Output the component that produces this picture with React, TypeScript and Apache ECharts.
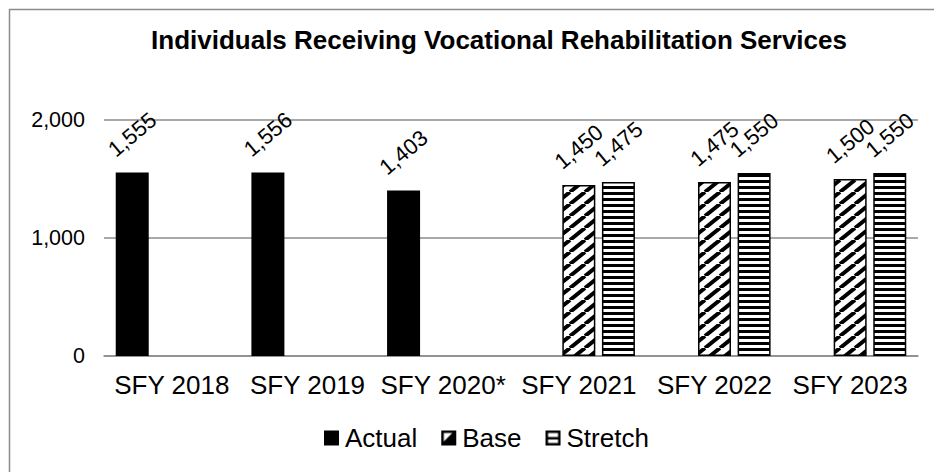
import React, { useEffect, useRef } from "react";
import * as echarts from "echarts";

const categories = ["SFY 2018", "SFY 2019", "SFY 2020*", "SFY 2021", "SFY 2022", "SFY 2023"];
const actualValues: (number | null)[] = [1555, 1556, 1403, null, null, null];
const baseValues: (number | null)[] = [null, null, null, 1450, 1475, 1500];
const stretchValues: (number | null)[] = [null, null, null, 1475, 1550, 1550];
const seriesNames = ["Actual", "Base", "Stretch"];
const titleText = "Individuals Receiving Vocational Rehabilitation Services";

const FONT = 'Arial, "Liberation Sans", sans-serif';

function makeDiagonal() {
  const W = 15, H = 12;
  const c = document.createElement("canvas");
  c.width = W; c.height = H;
  const ctx = c.getContext("2d")!;
  ctx.fillStyle = "#fff";
  ctx.fillRect(0, 0, W, H);
  ctx.strokeStyle = "#000";
  ctx.lineWidth = 4;
  for (const x0 of [-W, 0, W]) {
    ctx.beginPath();
    ctx.moveTo(x0, H);
    ctx.lineTo(x0 + W, 0);
    ctx.stroke();
  }
  return { image: c, repeat: "repeat", imageWidth: W, imageHeight: H };
}

function makeHorizontal() {
  const W = 4, H = 6;
  const c = document.createElement("canvas");
  c.width = W; c.height = H;
  const ctx = c.getContext("2d")!;
  ctx.fillStyle = "#fff";
  ctx.fillRect(0, 0, W, H);
  ctx.fillStyle = "#000";
  ctx.fillRect(0, 0, W, 3);
  return { image: c, repeat: "repeat", imageWidth: W, imageHeight: H };
}

function iconBase() {
  const c = document.createElement("canvas");
  c.width = 15; c.height = 15;
  const ctx = c.getContext("2d")!;
  ctx.fillStyle = "#000";
  ctx.fillRect(0, 0, 15, 15);
  ctx.fillStyle = "#fff";
  ctx.beginPath();
  ctx.moveTo(2.5, 2.5);
  ctx.lineTo(11, 2.5);
  ctx.lineTo(2.5, 11);
  ctx.closePath();
  ctx.fill();
  return "image://" + c.toDataURL();
}

function iconStretch() {
  const c = document.createElement("canvas");
  c.width = 15; c.height = 15;
  const ctx = c.getContext("2d")!;
  ctx.fillStyle = "#000";
  ctx.fillRect(0, 0, 15, 15);
  ctx.fillStyle = "#fff";
  ctx.fillRect(2.5, 2.5, 10, 10);
  ctx.fillStyle = "#000";
  ctx.fillRect(2, 6.5, 11, 2.5);
  return "image://" + c.toDataURL();
}

const fmt = (v: number) => v.toLocaleString("en-US");

export default function App() {
  const ref = useRef<HTMLDivElement>(null);
  useEffect(() => {
    document.body.style.margin = "0";
    const chart = echarts.init(ref.current!, null, { renderer: "svg" });
    const label = {
      show: true,
      position: "top",
      distance: 38,
      rotate: 40,
      align: "center",
      verticalAlign: "middle",
      color: "#000",
      fontSize: 22,
      fontFamily: FONT,
      formatter: (p: any) => (p.value == null ? "" : fmt(p.value)),
    };
    chart.setOption({
      animation: false,
      backgroundColor: "#fff",
      textStyle: { fontFamily: FONT },
      graphic: [
        {
          type: "rect",
          shape: { x: 9.5, y: 9.5, width: 940, height: 480 },
          style: { fill: "none", stroke: "#8c8c8c", lineWidth: 1.5 },
          silent: true,
        },
        {
          type: "text",
          x: 499,
          y: 40,
          style: {
            text: titleText,
            fontSize: 26,
            fontWeight: "bold",
            fontFamily: FONT,
            fill: "#000",
            align: "center",
            verticalAlign: "middle",
          },
        },
      ],
      legend: {
        left: 324,
        top: 425,
        padding: 0,
        itemWidth: 15,
        itemHeight: 15,
        itemGap: 24,
        textStyle: { fontSize: 26, color: "#000", fontFamily: FONT, padding: [0, 0, 0, 1] },
        data: [
          { name: seriesNames[0], icon: "rect" },
          { name: seriesNames[1], icon: iconBase() },
          { name: seriesNames[2], icon: iconStretch() },
        ],
      },
      grid: { left: 104, right: 16, top: 120, bottom: 116, containLabel: false },
      xAxis: {
        type: "category",
        data: categories,
        axisLine: { show: true, lineStyle: { color: "#8c8c8c", width: 1.5 } },
        axisTick: { show: false },
        axisLabel: { color: "#000", fontSize: 26, margin: 16, fontFamily: FONT, interval: 0 },
      },
      yAxis: {
        type: "value",
        min: 0,
        max: 2000,
        interval: 1000,
        axisLine: { show: false },
        axisTick: { show: false },
        splitLine: { lineStyle: { color: "#8c8c8c", width: 1.5 } },
        axisLabel: { color: "#000", fontSize: 21.5, margin: 19, fontFamily: FONT },
      },
      series: [
        {
          name: seriesNames[0],
          type: "bar",
          data: actualValues,
          barWidth: 33,
          barGap: "20%",
          itemStyle: { color: "#000" },
          label,
        },
        {
          name: seriesNames[1],
          type: "bar",
          data: baseValues,
          barWidth: 33,
          barGap: "20%",
          itemStyle: { color: makeDiagonal(), borderColor: "#000", borderWidth: 1.5 },
          label,
        },
        {
          name: seriesNames[2],
          type: "bar",
          data: stretchValues,
          barWidth: 33,
          barGap: "20%",
          itemStyle: { color: makeHorizontal(), borderColor: "#000", borderWidth: 1.5 },
          label,
        },
      ],
    });
    return () => chart.dispose();
  }, []);
  return <div ref={ref} style={{ position: "fixed", left: 0, top: 0, width: 934, height: 472 }} />;
}
